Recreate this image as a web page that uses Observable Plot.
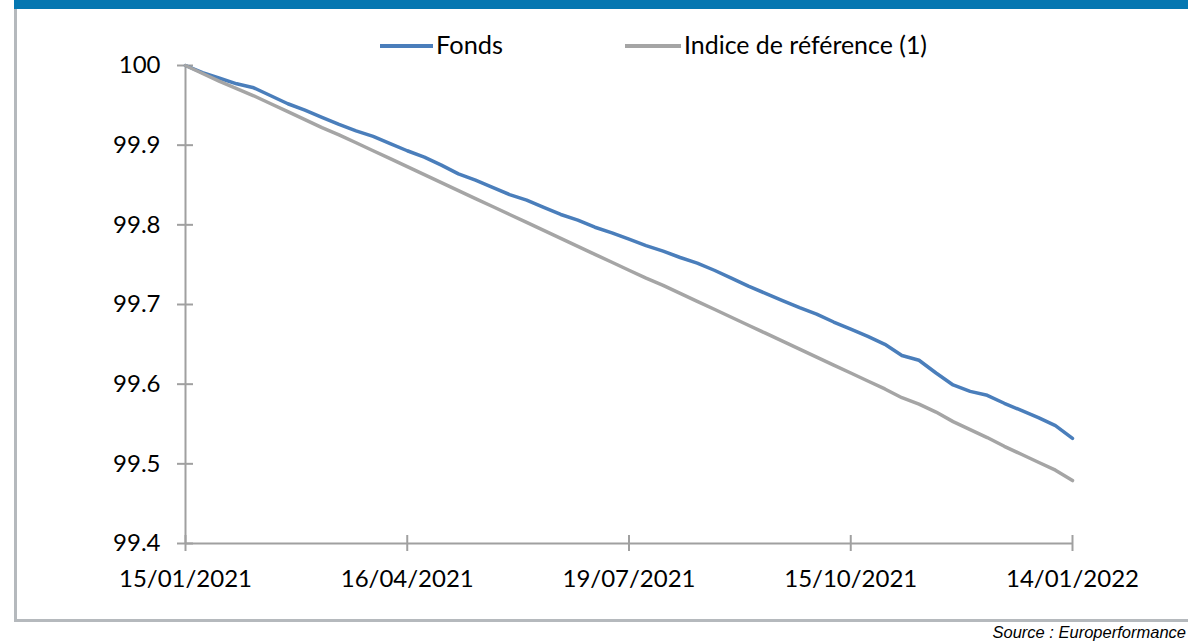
<!DOCTYPE html>
<html><head><meta charset="utf-8">
<script src="https://cdn.jsdelivr.net/npm/d3@7"></script>
<script src="https://cdn.jsdelivr.net/npm/@observablehq/plot@0.6"></script>
<style>
html,body{margin:0;padding:0;background:#fff;overflow:hidden}
#wrap{position:relative;width:1188px;height:642px;overflow:hidden;background:#fff}
#banner{position:absolute;left:14px;top:0;width:1174px;height:9px;background:#0577b1}
#frameL{position:absolute;left:14px;top:9px;width:3px;height:613px;background:#b5b9bd}
#frameB{position:absolute;left:14px;top:619px;width:1174px;height:3px;background:#b5b9bd}
#chart{position:absolute;left:0;top:0}
.legline{position:absolute;height:4px;top:44px}
.legtext{position:absolute;top:46px;font-family:Lato,sans-serif;font-size:25px;line-height:1;white-space:nowrap;transform-origin:0 50%;color:#000}
#source{position:absolute;right:2px;top:624px;font-family:"Liberation Sans",Arial,sans-serif;font-style:italic;font-size:16.5px;line-height:1;white-space:nowrap;color:#000}
</style></head>
<body><div id="wrap">
<div id="chart"></div>
<div id="banner"></div>
<div id="frameL"></div>
<div id="frameB"></div>
<div id="legend"></div>
<div id="source"></div>
</div>
<script>
const seriesNames = ["Fonds", "Indice de référence (1)"];
const seriesColors = ["#4A7EBB", "#A5A5A5"];
const fonds = [100.000, 99.991, 99.984, 99.977, 99.972, 99.962, 99.952, 99.944, 99.935, 99.926,
  99.918, 99.911, 99.902, 99.893, 99.885, 99.875, 99.864, 99.856, 99.847, 99.838,
  99.831, 99.822, 99.813, 99.806, 99.797, 99.790, 99.782, 99.774, 99.767, 99.759,
  99.752, 99.743, 99.733, 99.723, 99.714, 99.705, 99.696, 99.688, 99.678, 99.669,
  99.660, 99.650, 99.636, 99.630, 99.614, 99.599, 99.591, 99.586, 99.576, 99.567,
  99.558, 99.548, 99.532];
const indice = [100.000, 99.990, 99.980, 99.971, 99.962, 99.952, 99.942, 99.932, 99.922, 99.913,
  99.903, 99.893, 99.883, 99.873, 99.863, 99.853, 99.843, 99.833, 99.823, 99.813,
  99.803, 99.793, 99.783, 99.773, 99.763, 99.753, 99.743, 99.733, 99.724, 99.714,
  99.704, 99.694, 99.684, 99.674, 99.664, 99.654, 99.644, 99.634, 99.624, 99.614,
  99.604, 99.594, 99.583, 99.575, 99.565, 99.553, 99.543, 99.533, 99.522, 99.512,
  99.502, 99.492, 99.479];
const xTickIdx = [0, 13, 26, 39, 52];
const xTickLabels = ["15/01/2021", "16/04/2021", "19/07/2021", "15/10/2021", "14/01/2022"];
const yTicks = [99.4, 99.5, 99.6, 99.7, 99.8, 99.9, 100];
const yTickLabels = ["99.4", "99.5", "99.6", "99.7", "99.8", "99.9", "100"];
const sourceText = "Source : Europerformance";

const data = [
  ...fonds.map((v, i) => ({i, v, s: seriesNames[0]})),
  ...indice.map((v, i) => ({i, v, s: seriesNames[1]}))
];
const axisGrey = "#a0a0a0";

const chart = Plot.plot({
  width: 1188, height: 642,
  marginLeft: 185, marginRight: 116, marginTop: 65, marginBottom: 99,
  style: {fontFamily: "Lato, sans-serif", fontSize: "24px", color: "#000", background: "transparent"},
  x: {domain: [0, fonds.length - 1]},
  y: {domain: [yTicks[0], yTicks[yTicks.length - 1]]},
  color: {domain: seriesNames, range: seriesColors},
  marks: [
    Plot.ruleX([xTickIdx[0]], {stroke: axisGrey, strokeWidth: 2}),
    Plot.ruleY([yTicks[0]], {stroke: axisGrey, strokeWidth: 2}),
    Plot.axisY(yTicks, {tickSize: 16, dx: 8, tickPadding: 17, stroke: axisGrey, strokeWidth: 2, fill: "#000", label: null,
      tickFormat: d => yTickLabels[yTicks.findIndex(t => Math.abs(t - d) < 1e-9)]}),
    Plot.axisX(xTickIdx, {tickSize: 16, dy: -8, tickPadding: 18, stroke: axisGrey, strokeWidth: 2, fill: "#000", label: null,
      tickFormat: d => xTickLabels[xTickIdx.indexOf(d)]}),
    Plot.line(data, {x: "i", y: "v", z: "s", stroke: "s", strokeWidth: 3.5, strokeLinejoin: "round", strokeLinecap: "round"})
  ]
});
document.getElementById("chart").appendChild(chart);

// legend
const legend = document.getElementById("legend");
const legLayout = [{lx: 380, lw: 53, tx: 436, tw: 67}, {lx: 625, lw: 56, tx: 684, tw: 243}];
seriesNames.forEach((name, k) => {
  const L = legLayout[k];
  const line = document.createElement("div");
  line.className = "legline";
  line.style.left = L.lx + "px"; line.style.width = L.lw + "px"; line.style.background = seriesColors[k];
  legend.appendChild(line);
  const t = document.createElement("span");
  t.className = "legtext";
  t.textContent = name;
  t.style.left = L.tx + "px";
  legend.appendChild(t);
  const w = t.getBoundingClientRect().width;
  t.style.transform = `translateY(-55%) scaleX(${L.tw / w})`;
});
document.getElementById("source").textContent = sourceText;
</script>
</body></html>
